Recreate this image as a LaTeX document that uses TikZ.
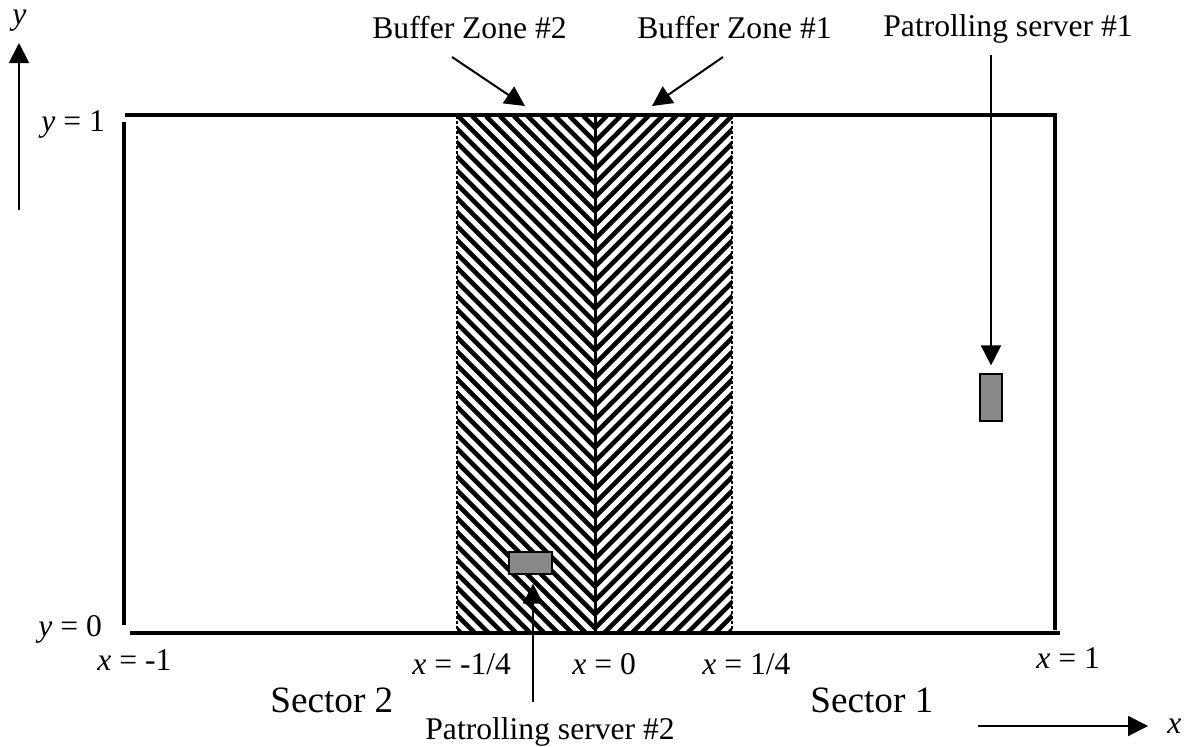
\documentclass[tikz,border=0pt]{standalone}
\usepackage{fontspec}
\setmainfont{Liberation Serif}
\usetikzlibrary{arrows.meta}
\definecolor{srv}{RGB}{136,136,136}
\begin{document}
\begin{tikzpicture}[x=0.5pt,y=-0.5pt,
  lbl/.style={anchor=base west,inner sep=0pt,font=\fontsize{15.8}{18}\selectfont},
  sec/.style={anchor=base west,inner sep=0pt,font=\fontsize{18.6}{22}\selectfont},
  box/.style={line width=2pt},
  hatch/.style={line width=2.3pt},
  zoneedge/.style={line width=0.8pt,dash pattern=on 1.5pt off 1pt},
  ptr/.style={line width=1pt,-{Triangle[width=10pt,length=10pt]}},
  server/.style={draw=black,line width=0.6pt,fill=srv,inner sep=0pt}
]
\useasboundingbox (0,0) rectangle (1184,746);

% hatching, buffer zone #2 (left)
\begin{scope}
  \clip (457,116) rectangle (595,633);
  \foreach \i in {0,...,50} {
    \pgfmathsetmacro\t{-70+13.9*\i}
    \draw[hatch] (\t,116) -- (\t+517,633);
  }
\end{scope}
% hatching, buffer zone #1 (right)
\begin{scope}
  \clip (595,116) rectangle (732,633);
  \foreach \i in {0,...,50} {
    \pgfmathsetmacro\t{1190+70-13.9*\i}
    \draw[hatch] (\t,116) -- (\t-517,633);
  }
\end{scope}
\draw[zoneedge] (457,116) -- (457,633);
\draw[zoneedge] (732,116) -- (732,633);
\draw[line width=1.5pt] (595,116) -- (595,633);

% outer box
\draw[box] (125,115) -- (1057,115);
\draw[box] (1055,115) -- (1055,630);
\draw[box] (124,122) -- (124,625);
\draw[box] (130,633) -- (1060,633);

% servers
\node[server,minimum width=11pt,minimum height=23.5pt] (s1) at (991,397.5) {};
\node[server,minimum width=21.5pt,minimum height=11pt] (s2) at (530.5,563) {};

% labels
\node[lbl] (bz2) at (372,38) {Buffer Zone \#2};
\node[lbl] (bz1) at (637,38) {Buffer Zone \#1};
\node[lbl] (ps1) at (883,36) {Patrolling server \#1};
\node[lbl] (ps2) at (425,739) {Patrolling server \#2};

\node[lbl] (ylab) at (12,24) {\textit{y}};
\node[lbl] (xlab) at (1167,733) {\textit{x}};

\node[lbl] (y1) at (41,131) {\textit{y} = 1};
\node[lbl] (y0) at (38,636) {\textit{y} = 0};
\node[lbl] (xm1) at (97,670) {\textit{x} = -1};
\node[lbl] (xmq) at (412,674) {\textit{x} = -1/4};
\node[lbl] (x0) at (572,674) {\textit{x} = 0};
\node[lbl] (xq) at (702,674) {\textit{x} = 1/4};
\node[lbl] (x1) at (1036,668) {\textit{x} = 1};

\node[sec] (sec2) at (270,712) {Sector 2};
\node[sec] (sec1) at (810,712) {Sector 1};

% pointers
\coordinate (bz2a) at (452,57);
\coordinate (bz2b) at (525,106);
\coordinate (bz1a) at (723,57);
\coordinate (bz1b) at (652,106);
\draw[ptr] (bz2a) -- (bz2b);
\draw[ptr] (bz1a) -- (bz1b);

\coordinate (ps1a) at (991,55);
\draw[ptr,shorten >=4pt] (ps1a) -- (s1.north);
\coordinate (ps2a) at (533,702);
\draw[ptr,shorten >=4.5pt] (ps2a) -- (ps2a |- s2.south);

% axes
\coordinate (ya) at (19,210);
\coordinate (yb) at (19,43);
\draw[ptr] (ya) -- (yb);
\coordinate (xa) at (978,726);
\coordinate (xb) at (1148,726);
\draw[ptr] (xa) -- (xb);
\end{tikzpicture}
\end{document}
